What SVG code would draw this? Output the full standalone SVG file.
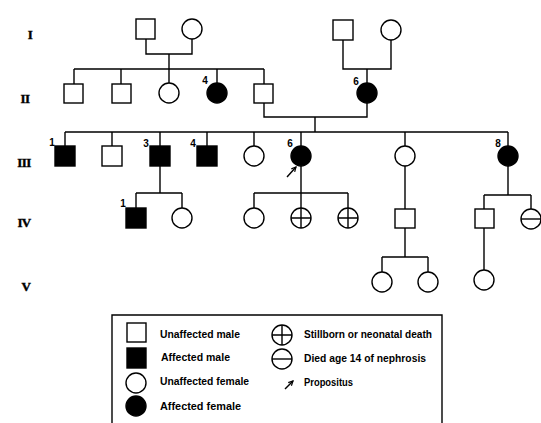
<svg xmlns="http://www.w3.org/2000/svg" width="541" height="423" viewBox="0 0 541 423">
<style>
.ln{fill:none;stroke:#000;stroke-width:1.4}
.o{fill:#fff;stroke:#000;stroke-width:1.4}
.f{fill:#000;stroke:#000;stroke-width:1.4}
.gen{font-family:"Liberation Serif",serif;font-weight:bold;font-size:13px;text-anchor:middle;letter-spacing:-0.6px;stroke:#000;stroke-width:0.4}
.num{font-family:"Liberation Sans",sans-serif;font-weight:bold;font-size:10px;text-anchor:middle}
.lg{font-family:"Liberation Sans",sans-serif;font-weight:bold;font-size:10px}
</style>
<defs>
<marker id="ah" viewBox="0 0 8 8" refX="7" refY="4" markerWidth="6" markerHeight="6" markerUnits="userSpaceOnUse" orient="auto"><path d="M1,1 L7,4 L1,7" fill="none" stroke="#000" stroke-width="1.6"/></marker>
</defs>
<rect width="541" height="423" fill="#fff"/>
<g id="gen-labels">
<text class="gen" x="30" y="39">I</text>
<text class="gen" x="25" y="103">II</text>
<text class="gen" x="24" y="167">III</text>
<text class="gen" x="24" y="227">IV</text>
<text class="gen" x="26" y="291">V</text>
</g>
<g id="connectors">
<path class="ln" d="M146,39 V54 H192 V39 M169,54 V69 M74,69 H264 M74,69 V84 M121,69 V84 M169,69 V83 M217,69 V83 M264,69 V84"/>
<path class="ln" d="M343,40 V69 H391 V40 M367,69 V83"/>
<path class="ln" d="M264,103 V117 H367 V103 M315,117 V132"/>
<path class="ln" d="M65,132 H508 M65,132 V146 M112,132 V146 M160,132 V146 M207,132 V146 M254,132 V146 M301,132 V146 M405,132 V146 M508,132 V146"/>
<path class="ln" d="M160,166 V193 M136,193 H182 M136,193 V208 M182,193 V208"/>
<path class="ln" d="M301,166 V193 M254,193 H348 M254,193 V208 M301,193 V208 M348,193 V208"/>
<path class="ln" d="M405,166 V209 M405,228 V257 M382,257 H428 M382,257 V272 M428,257 V272"/>
<path class="ln" d="M508,166 V195 M484,195 H531 M484,195 V209 M531,195 V209 M484,228 V270"/>
<path class="ln" d="M287,177 L296,167" marker-end="url(#ah)"/>
</g>
<g id="I-1"><rect class="o" x="136" y="19" width="19" height="20"/></g>
<g id="I-2"><circle class="o" cx="192" cy="29" r="10"/></g>
<g id="I-3"><rect class="o" x="333" y="20" width="20" height="20"/></g>
<g id="I-4"><circle class="o" cx="391" cy="30" r="10"/></g>
<g id="II-1"><rect class="o" x="64" y="84" width="19" height="19"/></g>
<g id="II-2"><rect class="o" x="112" y="84" width="19" height="19"/></g>
<g id="II-3"><circle class="o" cx="169" cy="93" r="10"/></g>
<g id="II-4"><circle class="f" cx="217" cy="93" r="10"/><text class="num" x="205" y="84">4</text></g>
<g id="II-5"><rect class="o" x="254" y="84" width="19" height="19"/></g>
<g id="II-6"><circle class="f" cx="367" cy="93" r="10"/><text class="num" x="356" y="85">6</text></g>
<g id="III-1"><rect class="f" x="55" y="146" width="20" height="20"/><text class="num" x="52" y="146">1</text></g>
<g id="III-2"><rect class="o" x="102" y="146" width="20" height="20"/></g>
<g id="III-3"><rect class="f" x="150" y="146" width="20" height="20"/><text class="num" x="146" y="147">3</text></g>
<g id="III-4"><rect class="f" x="197" y="146" width="20" height="20"/><text class="num" x="193" y="147">4</text></g>
<g id="III-5"><circle class="o" cx="254" cy="156" r="10"/></g>
<g id="III-6"><circle class="f" cx="301" cy="156" r="10"/><text class="num" x="290" y="147">6</text></g>
<g id="III-7"><circle class="o" cx="405" cy="156" r="10"/></g>
<g id="III-8"><circle class="f" cx="508" cy="156" r="10"/><text class="num" x="498" y="147">8</text></g>
<g id="IV-1"><rect class="f" x="126" y="208" width="20" height="20"/><text class="num" x="123" y="207">1</text></g>
<g id="IV-2"><circle class="o" cx="182" cy="218" r="10"/></g>
<g id="IV-3"><circle class="o" cx="254" cy="218" r="10"/></g>
<g id="IV-4"><circle class="o" cx="301" cy="218" r="10"/><path class="ln" d="M291,218 H311 M301,208 V228"/></g>
<g id="IV-5"><circle class="o" cx="348" cy="218" r="10"/><path class="ln" d="M338,218 H358 M348,208 V228"/></g>
<g id="IV-6"><rect class="o" x="395" y="209" width="20" height="19"/></g>
<g id="IV-7"><rect class="o" x="475" y="209" width="19" height="19"/></g>
<g id="IV-8"><circle class="o" cx="531" cy="219" r="10"/><path class="ln" d="M521,219 H541"/></g>
<g id="V-1"><circle class="o" cx="382" cy="282" r="10"/></g>
<g id="V-2"><circle class="o" cx="428" cy="282" r="10"/></g>
<g id="V-3"><circle class="o" cx="484" cy="280" r="10"/></g>
<g id="legend">
<path class="ln" d="M112,423 V315 H442 V423"/>
<rect class="o" x="127" y="323" width="19" height="19"/>
<rect class="f" x="127" y="348" width="19" height="20"/>
<circle class="o" cx="136" cy="383" r="10"/>
<circle class="f" cx="136" cy="406" r="10"/>
<circle class="o" cx="282" cy="335" r="10"/><path class="ln" d="M272,335 H292 M282,325 V345"/>
<circle class="o" cx="282" cy="359" r="10"/><path class="ln" d="M272,359 H292"/>
<path class="ln" d="M285,389 L293,381" marker-end="url(#ah)"/>
<text class="lg" x="160" y="338" textLength="80" lengthAdjust="spacingAndGlyphs">Unaffected male</text>
<text class="lg" x="161" y="361" textLength="69" lengthAdjust="spacingAndGlyphs">Affected male</text>
<text class="lg" x="160" y="385" textLength="89" lengthAdjust="spacingAndGlyphs">Unaffected female</text>
<text class="lg" x="160" y="410" textLength="81" lengthAdjust="spacingAndGlyphs">Affected female</text>
<text class="lg" x="304" y="338" textLength="128" lengthAdjust="spacingAndGlyphs">Stillborn or neonatal death</text>
<text class="lg" x="304" y="362" textLength="122" lengthAdjust="spacingAndGlyphs">Died age 14 of nephrosis</text>
<text class="lg" x="304" y="386" textLength="49" lengthAdjust="spacingAndGlyphs">Propositus</text>
</g>
</svg>
